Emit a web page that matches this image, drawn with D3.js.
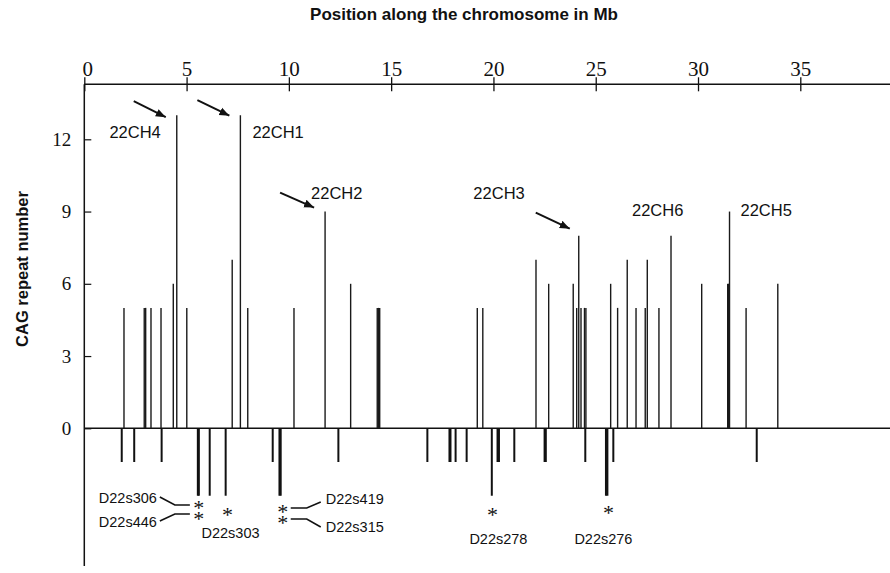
<!DOCTYPE html>
<html>
<head>
<meta charset="utf-8">
<script src="https://cdn.jsdelivr.net/npm/d3@7/dist/d3.min.js"></script>
<style>
  body { margin: 0; background: #fff; }
  text { fill: #111; }
</style>
</head>
<body>
<script>
// CAG repeat loci along the chromosome (Mb) and repeat number
const lociMb = [1.94, 2.93, 3.0, 3.26, 3.75, 4.35, 4.52, 5.01, 7.23, 7.63, 7.99,
    10.25, 11.77, 13.02, 14.32, 14.38, 14.44, 19.21, 19.48, 22.08, 22.70, 23.90,
    24.07, 24.17, 24.28, 24.45, 24.52, 25.73, 26.07, 26.54, 26.97, 27.42, 27.52,
    28.09, 28.68, 30.18, 31.45, 31.5, 31.54, 32.35, 33.90];
const repeats = [5, 5, 5, 5, 5, 6, 13, 5, 7, 13, 5,
    5, 9, 6, 5, 5, 5, 5, 5, 7, 6, 6,
    5, 8, 5, 5, 5, 6, 5, 7, 5, 5, 7,
    5, 8, 6, 6, 6, 9, 5, 6];

// microsatellite markers drawn below the line
const markerMb = [1.83, 2.44, 3.78, 5.55, 5.6, 6.13, 6.91, 9.21, 9.54, 9.6, 12.42,
    16.77, 17.85, 17.9, 18.15, 18.69, 19.92, 20.2, 20.27, 21.02, 22.5, 22.56,
    24.49, 25.5, 25.57, 25.86, 32.87];
const markerDepth = [-1.4, -1.4, -1.4, -2.8, -2.8, -2.8, -2.8, -1.4, -2.8, -2.8, -1.4,
    -1.4, -1.4, -1.4, -1.4, -1.4, -2.8, -1.4, -1.4, -1.4, -1.4, -1.4,
    -1.4, -2.8, -2.8, -1.4, -1.4];

const xTicks = [0, 5, 10, 15, 20, 25, 30, 35];
const yTicks = [0, 3, 6, 9, 12];

const geneNames = ['22CH4', '22CH1', '22CH2', '22CH3', '22CH6', '22CH5'];
const geneMb = [4.52, 7.63, 11.77, 24.17, 28.68, 31.54];
const geneRepeat = [13, 13, 9, 8, 8, 9];

const markerNames = ['D22s306', 'D22s446', 'D22s303', 'D22s419', 'D22s315', 'D22s278', 'D22s276'];
const markerNoteMb = [5.6, 5.6, 7.0, 9.7, 9.7, 19.95, 25.62];

const width = 890, height = 573;

let svg = d3.select('body').append('svg')
    .attr('width', width)
    .attr('height', height)
    .style('font-family', '"Liberation Sans", Arial, sans-serif');

let x = d3.scaleLinear().domain([0, 35]).range([84.3, 800.3]);
let y = d3.scaleLinear().domain([0, 12]).range([428.3, 139.3]);

svg.append('defs').append('marker')
    .attr('id', 'head')
    .attr('viewBox', '0 0 10 10')
    .attr('refX', 10).attr('refY', 5)
    .attr('markerWidth', 10).attr('markerHeight', 10)
    .attr('markerUnits', 'userSpaceOnUse')
    .attr('orient', 'auto')
  .append('path')
    .attr('d', 'M0,1 L10,5 L0,9 Z')
    .attr('fill', '#111');

// titles
svg.append('text')
    .attr('x', 464).attr('y', 20)
    .attr('text-anchor', 'middle')
    .style('font-weight', 'bold').style('font-size', '17px')
    .text('Position along the chromosome in Mb');

svg.append('text')
    .attr('transform', 'translate(28,269) rotate(-90)')
    .attr('text-anchor', 'middle')
    .style('font-weight', 'bold').style('font-size', '16.5px')
    .text('CAG repeat number');

// top axis
let topAxis = svg.append('g')
    .attr('transform', 'translate(0,84.3)')
    .call(d3.axisTop(x).tickValues(xTicks).tickSizeInner(7).tickSizeOuter(0).tickPadding(1));
topAxis.select('.domain').remove();
topAxis.selectAll('.tick line').attr('y1', 7).attr('stroke', '#111').attr('stroke-width', 1.3);
topAxis.selectAll('.tick text')
    .attr('dx', (d) => d === 0 ? 3 : 0)
    .style('font-family', '"Liberation Serif", "Times New Roman", serif')
    .style('font-size', '21px');
topAxis.append('line')
    .attr('x1', x(0)).attr('x2', width)
    .attr('stroke', '#111').attr('stroke-width', 1.5);

// left axis
let leftAxis = svg.append('g')
    .attr('transform', 'translate(84.3,0)')
    .call(d3.axisLeft(y).tickValues(yTicks).tickSizeInner(-7).tickSizeOuter(0).tickPadding(13));
leftAxis.select('.domain').remove();
leftAxis.selectAll('.tick line').attr('stroke', '#111').attr('stroke-width', 1.2);
leftAxis.selectAll('.tick text')
    .style('font-family', '"Liberation Serif", "Times New Roman", serif')
    .style('font-size', '19px');
leftAxis.append('line')
    .attr('y1', 84.3).attr('y2', 566)
    .attr('stroke', '#111').attr('stroke-width', 1.5);

// zero line
svg.append('line')
    .attr('x1', x(0)).attr('x2', width)
    .attr('y1', y(0)).attr('y2', y(0))
    .attr('stroke', '#111').attr('stroke-width', 1.6);

// repeat bars
svg.append('g').selectAll('line')
    .data(lociMb)
    .enter().append('line')
    .attr('x1', (d) => x(d)).attr('x2', (d) => x(d))
    .attr('y1', y(0))
    .attr('y2', (d, i) => y(repeats[i]))
    .attr('stroke', '#1a1a1a')
    .attr('stroke-width', 1.4);

// marker bars
svg.append('g').selectAll('line')
    .data(markerMb)
    .enter().append('line')
    .attr('x1', (d) => x(d)).attr('x2', (d) => x(d))
    .attr('y1', y(0))
    .attr('y2', (d, i) => y(markerDepth[i]))
    .attr('stroke', '#111')
    .attr('stroke-width', 2);

// gene labels, offsets from the bar top in px: [label dx, label dy, anchor, arrow]
const geneLayout = [
    [-16, 17, 'end', [-43, -14, -11, 2]],
    [12, 17, 'start', [-43, -15, -11, 0.5]],
    [-14, -18, 'start', [-45, -19, -11, -4]],
    [-54, -42, 'end', [-43, -23, -9, -7]],
    [-39, -25, 'start', null],
    [11, -1, 'start', null]
];

geneNames.forEach((name, i) => {
    const bx = x(geneMb[i]);
    const by = y(geneRepeat[i]);
    const l = geneLayout[i];
    svg.append('text')
        .attr('x', bx + l[0]).attr('y', by + l[1])
        .attr('dy', '0.35em')
        .attr('text-anchor', l[2])
        .style('font-size', '16.5px')
        .text(name);
    if (l[3]) {
        svg.append('line')
            .attr('x1', bx + l[3][0]).attr('y1', by + l[3][1])
            .attr('x2', bx + l[3][2]).attr('y2', by + l[3][3])
            .attr('stroke', '#111').attr('stroke-width', 2)
            .attr('marker-end', 'url(#head)');
    }
});

// starred markers: [star y, label dx, label y, anchor, leader points relative to star]
const markerLayout = [
    [504, -42, 498, 'end', [[-39, -7], [-24, 1], [-9, 1]]],
    [515, -42, 522, 'end', [[-9, -1], [-24, -1], [-39, 6]]],
    [511, 3, 533, 'middle', null],
    [508, 43, 499, 'start', [[8, 0], [24, 0], [38, -6]]],
    [519, 43, 527, 'start', [[8, 0], [24, 0], [38, 8]]],
    [511, 6, 539, 'middle', null],
    [509, -5, 539, 'middle', null]
];

// stacked stars share one text element per position
let starGroups = d3.groups(markerNames.map((n, i) => i), (i) => markerNoteMb[i]);
starGroups.forEach(([mb, idx]) => {
    let t = svg.append('text')
        .attr('text-anchor', 'middle')
        .style('font-family', '"Liberation Serif", "Times New Roman", serif')
        .style('font-size', '22px');
    idx.forEach((i) => {
        t.append('tspan')
            .attr('x', x(mb))
            .attr('y', markerLayout[i][0] + 11)
            .text('*');
    });
});

markerNames.forEach((name, i) => {
    const sx = x(markerNoteMb[i]);
    const m = markerLayout[i];
    svg.append('text')
        .attr('x', sx + m[1]).attr('y', m[2])
        .attr('dy', '0.35em')
        .attr('text-anchor', m[3])
        .style('font-size', '14.5px')
        .text(name);
    if (m[4]) {
        svg.append('path')
            .attr('d', d3.line()(m[4].map((p) => [sx + p[0], m[0] + p[1]])))
            .attr('fill', 'none')
            .attr('stroke', '#111')
            .attr('stroke-width', 1.6);
    }
});
</script>
</body>
</html>
